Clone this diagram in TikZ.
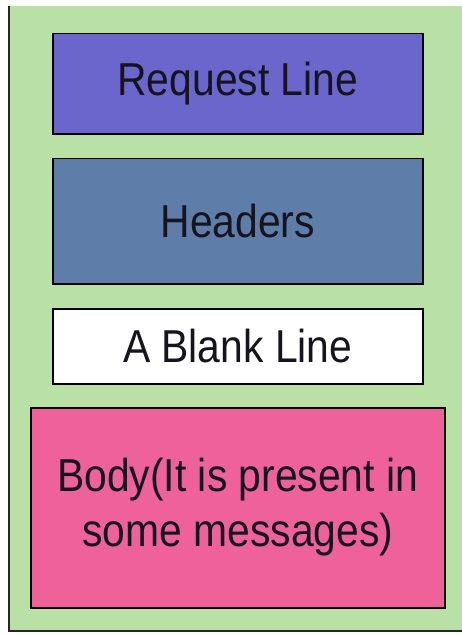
\documentclass[tikz,border=0pt]{standalone}
\usepackage{fontspec}
\setmainfont{Liberation Sans}
\definecolor{bggreen}{HTML}{B9E0A5}
\definecolor{reqpurple}{HTML}{6A66CC}
\definecolor{hdrblue}{HTML}{5E7DA8}
\definecolor{bodypink}{HTML}{EE6299}
\definecolor{txtdark}{HTML}{16141E}
\begin{document}
\begin{tikzpicture}[x=1bp,y=-1bp,
  part/.style={draw=black, line width=1.5bp, rectangle, inner sep=0pt, anchor=north west,
     text=txtdark, font=\fontsize{41}{48.7}\selectfont}]
\useasboundingbox (0,0) rectangle (462,635);
\fill[bggreen] (9,6) rectangle (462,631);
\draw[line width=1.5bp, black!85] (9,6) -- (9,631) -- (462,631);
\node[part, fill=reqpurple, minimum width=370bp, minimum height=100bp] (req) at (52,33) {\scalebox{1}[1.13]{Request Line}};
\node[part, fill=hdrblue, minimum width=370bp, minimum height=125bp] (hdr) at (52,158) {\scalebox{1}[1.13]{Headers}};
\node[part, fill=white, minimum width=370bp, minimum height=75bp] (blank) at (52,308) {\scalebox{1}[1.13]{A Blank Line}};
\node[part, fill=bodypink, minimum width=414bp, minimum height=200bp] (body) at (30,407) {\scalebox{1}[1.13]{\begin{tabular}{@{}c@{}}Body(It is present in\\some messages)\end{tabular}}};
\end{tikzpicture}
\end{document}
